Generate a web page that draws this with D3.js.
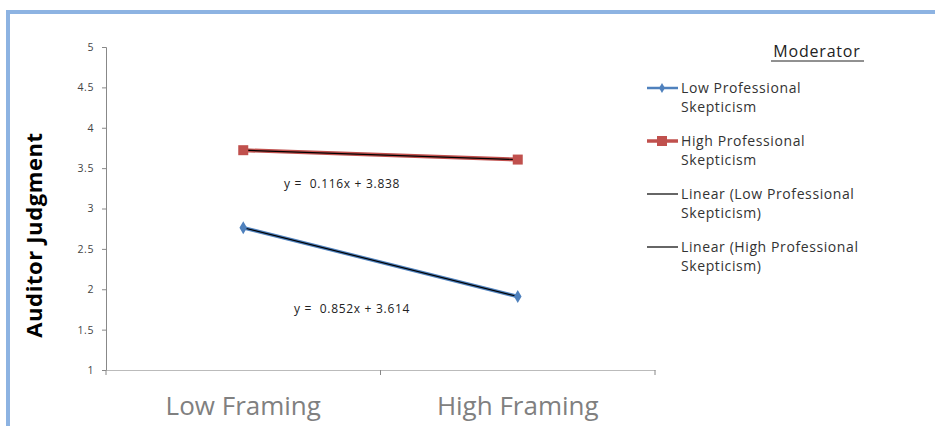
<!DOCTYPE html>
<html>
<head>
<meta charset="utf-8">
<script src="https://cdn.jsdelivr.net/npm/d3@7"></script>
<style>
  body { margin: 0; background: #fff; }
  svg { display: block; }
  text { font-family: "Open Sans", sans-serif; }
</style>
</head>
<body>
<div id="chart"></div>
<script>
const categories = ['Low Framing', 'High Framing'];
const yTicks = [1, 1.5, 2, 2.5, 3, 3.5, 4, 4.5, 5];
const lowPS = [2.762, 1.91];
const highPS = [3.722, 3.606];
const lowFit = [-0.852, 3.614];   // slope, intercept
const highFit = [-0.116, 3.838];
const highEq = 'y =  0.116x + 3.838';
const lowEq = 'y =  0.852x + 3.614';
const legendItems = [
  ['Low Professional', 'Skepticism'],
  ['High Professional', 'Skepticism'],
  ['Linear (Low Professional', 'Skepticism)'],
  ['Linear (High Professional', 'Skepticism)']
];

const width = 935, height = 426;
const svg = d3.select('#chart').append('svg')
  .attr('width', width)
  .attr('height', height);

// frame
svg.append('path')
  .attr('d', `M8,${height} V12 H${width}`)
  .attr('fill', 'none')
  .attr('stroke', '#8db3e2')
  .attr('stroke-width', 4);

const x0 = 106, x1 = 655, yTop = 47, yBot = 370;

const y = d3.scaleLinear().domain([1, 5]).range([yBot, yTop]);
const x = d3.scaleBand().domain(categories).range([x0, x1]);
// numeric x for trendlines (1 = first category, 2 = second)
const xn = d3.scaleLinear().domain([1, 2])
  .range([x(categories[0]) + x.bandwidth() / 2, x(categories[1]) + x.bandwidth() / 2]);

// y axis
const yAxis = svg.append('g')
  .attr('transform', `translate(${x0},0)`)
  .call(d3.axisLeft(y).tickValues(yTicks).tickSize(4).tickFormat(d3.format('')));
yAxis.select('.domain').attr('stroke', '#888');
yAxis.selectAll('.tick line').attr('stroke', '#888');
yAxis.selectAll('.tick text')
  .attr('fill', '#444')
  .attr('font-size', 10.5)
  .attr('letter-spacing', 0.6)
  .attr('x', -12);

// x axis
const xAxis = svg.append('g')
  .attr('transform', `translate(0,${yBot})`)
  .call(d3.axisBottom(x).tickSize(0).tickPadding(0));
xAxis.select('.domain').attr('stroke', '#bbb');
xAxis.selectAll('.tick text')
  .attr('fill', '#808080')
  .attr('font-size', 26)
  .attr('dy', 45);
// category boundary ticks
svg.append('g').selectAll('line')
  .data([x0, x(categories[1]), x1])
  .join('line')
  .attr('x1', d => d).attr('x2', d => d)
  .attr('y1', yBot).attr('y2', yBot + 5)
  .attr('stroke', '#888');

// series lines
const line = d3.line()
  .x((d, i) => x(categories[i]) + x.bandwidth() / 2)
  .y(d => y(d));

svg.append('path')
  .datum(highPS)
  .attr('d', line)
  .attr('fill', 'none')
  .attr('stroke', '#c0504d')
  .attr('stroke-width', 4);

svg.append('path')
  .datum(lowPS)
  .attr('d', line)
  .attr('fill', 'none')
  .attr('stroke', '#4f81bd')
  .attr('stroke-width', 3.5);

// trendlines
[lowFit, highFit].forEach(f => {
  svg.append('line')
    .attr('x1', xn(1)).attr('y1', y(f[0] * 1 + f[1]))
    .attr('x2', xn(2)).attr('y2', y(f[0] * 2 + f[1]))
    .attr('stroke', '#000')
    .attr('stroke-width', 1.2);
});

// markers
svg.append('g').selectAll('rect')
  .data(highPS)
  .join('rect')
  .attr('x', (d, i) => x(categories[i]) + x.bandwidth() / 2 - 5)
  .attr('y', d => y(d) - 5)
  .attr('width', 10).attr('height', 10)
  .attr('fill', '#c0504d');

svg.append('g').selectAll('path')
  .data(lowPS)
  .join('path')
  .attr('d', d3.symbol(d3.symbolDiamond, 50))
  .attr('transform', (d, i) => `translate(${x(categories[i]) + x.bandwidth() / 2},${y(d)})`)
  .attr('fill', '#4f81bd');

// equations
svg.append('text')
  .attr('x', 284).attr('y', 188)
  .attr('font-size', 12).attr('letter-spacing', 0.7).attr('fill', '#222')
  .style('white-space', 'pre')
  .text(highEq);
svg.append('text')
  .attr('x', 294).attr('y', 313)
  .attr('font-size', 12).attr('letter-spacing', 0.7).attr('fill', '#222')
  .style('white-space', 'pre')
  .text(lowEq);

// y title
svg.append('text')
  .attr('transform', 'translate(42,235) rotate(-90)')
  .attr('text-anchor', 'middle')
  .attr('font-size', 22)
  .attr('letter-spacing', 0.6)
  .attr('font-weight', 'bold')
  .attr('fill', '#000')
  .text('Auditor Judgment');

// legend
const lg = svg.append('g');
lg.append('text')
  .attr('x', 817).attr('y', 57)
  .attr('text-anchor', 'middle')
  .attr('font-size', 16)
  .attr('letter-spacing', 0.8)
  .attr('fill', '#222')
  .text('Moderator');
lg.append('line')
  .attr('x1', 771).attr('x2', 864)
  .attr('y1', 61).attr('y2', 61)
  .attr('stroke', '#222').attr('stroke-width', 1);

const rowY = [88, 141, 194, 247];
const sampleColor = ['#4f81bd', '#c0504d', '#000', '#000'];
const sampleWidth = [2.5, 3.5, 1.2, 1.2];
legendItems.forEach((lines, i) => {
  const g = lg.append('g').attr('transform', `translate(0,${rowY[i]})`);
  g.append('line')
    .attr('x1', 647).attr('x2', 678)
    .attr('y1', 0).attr('y2', 0)
    .attr('stroke', sampleColor[i])
    .attr('stroke-width', sampleWidth[i]);
  if (i === 0) {
    g.append('path').attr('d', d3.symbol(d3.symbolDiamond, 30))
      .attr('transform', 'translate(662,0)').attr('fill', '#4f81bd');
  }
  if (i === 1) {
    g.append('rect').attr('x', 657).attr('y', -5).attr('width', 10).attr('height', 10)
      .attr('fill', '#c0504d');
  }
  lines.forEach((t, j) => {
    g.append('text')
      .attr('x', 681).attr('y', 5 + j * 19)
      .attr('font-size', 14)
      .attr('letter-spacing', 0.6)
      .attr('fill', '#333')
      .text(t);
  });
});
</script>
</body>
</html>
